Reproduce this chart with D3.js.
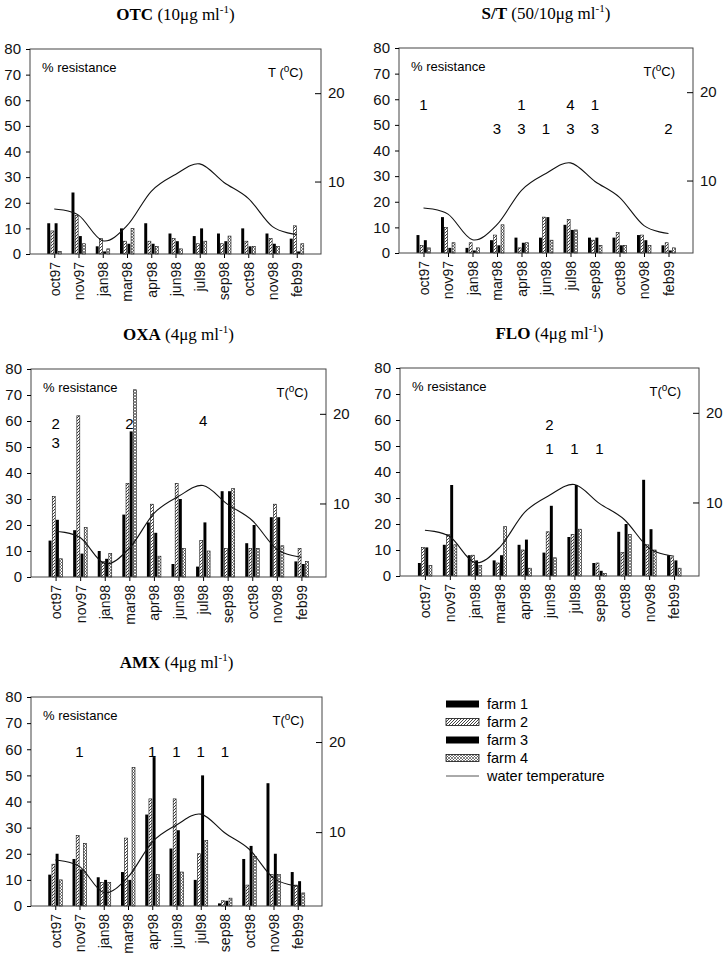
<!DOCTYPE html>
<html lang="en">
<head>
<meta charset="UTF-8" />
<title>index</title>
<script src="https://d3js.org/d3.v7.min.js"></script>
<style>
  body { margin: 0; background: white; }
  text { font-family: "Liberation Sans", Arial, sans-serif; }
  .title { font-family: "Liberation Serif", "Times New Roman", serif; font-size: 17px; }
</style>
</head>
<body>
<div id="my_dataviz"></div>
<script>
// categories (sampling months)
const categories = ["oct97","nov97","jan98","mar98","apr98","jun98","jul98","sep98","oct98","nov98","feb99"];
const farms = ["farm 1","farm 2","farm 3","farm 4"];

// water temperature, degrees C
const waterTemp = [6.9, 6.2, 3.3, 5.0, 8.9, 10.8, 12.0, 9.9, 8.1, 4.9, 4.0];

// % resistance, one row per farm
const otcValues = [
  [12, 24, 3, 10, 12, 8, 7, 8, 10, 8, 6],
  [9, 15, 6, 5, 5, 6, 4, 4, 5, 6, 11],
  [12, 7, 1, 4, 4, 5, 10, 5, 3, 4, 1],
  [1, 4, 2, 10, 3, 2, 5, 7, 3, 3, 4]
];
const stValues = [
  [7, 14, 2, 5, 6, 6, 11, 6, 6, 7, 3],
  [3, 10, 4, 7, 2, 14, 13, 5, 8, 7, 4],
  [5, 2, 1, 3, 4, 14, 9, 6, 3, 5, 1],
  [2, 4, 2, 11, 4, 5, 9, 3, 3, 3, 2]
];
const oxaValues = [
  [14, 18, 10, 24, 21, 5, 4, 33, 13, 23, 6],
  [31, 62, 6, 36, 28, 36, 14, 11, 11, 28, 11],
  [22, 9, 7, 56, 17, 30, 21, 33, 20, 23, 5],
  [7, 19, 9, 72, 8, 11, 10, 34, 11, 12, 6]
];
const floValues = [
  [5, 12, 8, 6, 12, 9, 15, 5, 17, 37, 8],
  [11, 16, 8, 5, 10, 17, 16, 5, 9, 12, 7],
  [11, 35, 6, 8, 14, 27, 35, 2, 20, 18, 6],
  [4, 12, 4, 19, 3, 7, 18, 1, 16, 10, 3]
];
const amxValues = [
  [12, 18, 11, 13, 35, 22, 10, 1, 18, 47, 13],
  [16, 27, 9, 26, 41, 41, 20, 2, 8, 12, 8],
  [20, 14, 10, 10, 57, 29, 50, 2, 23, 20, 9.5],
  [10, 24, 9, 53, 12, 13, 25, 3, 19, 12, 5]
];

// numbers written above the bars: [month, % level, text]
const otcNotes = [];
const stNotes = [["oct97",58,"1"],["mar98",48.5,"3"],["apr98",58,"1"],["apr98",48.5,"3"],["jun98",48.5,"1"],
                 ["jul98",58,"4"],["jul98",48.5,"3"],["sep98",58,"1"],["sep98",48.5,"3"],["feb99",48.5,"2"]];
const oxaNotes = [["oct97",59,"2"],["oct97",51.5,"3"],["mar98",59,"2"],["jul98",60,"4"]];
const floNotes = [["jun98",58,"2"],["jun98",49,"1"],["jul98",49,"1"],["sep98",49,"1"]];
const amxNotes = [["nov97",59,"1"],["apr98",59,"1"],["jun98",59,"1"],["jul98",59,"1"],["sep98",59,"1"]];

const yTicks = [0,10,20,30,40,50,60,70,80];
const tTicks = [10,20];

var svg = d3.select("#my_dataviz").append("svg")
  .attr("width", 727).attr("height", 955);

// fill patterns
var defs = svg.append("defs");
var p2 = defs.append("pattern").attr("id","hatch").attr("patternUnits","userSpaceOnUse")
  .attr("width",3).attr("height",3);
p2.append("rect").attr("width",3).attr("height",3).attr("fill","white");
p2.append("path").attr("d","M-1,1 L1,-1 M0,3 L3,0 M2,4 L4,2").attr("stroke","#111").attr("stroke-width",0.8);
var p4 = defs.append("pattern").attr("id","cross").attr("patternUnits","userSpaceOnUse")
  .attr("width",3).attr("height",3);
p4.append("rect").attr("width",3).attr("height",3).attr("fill","white");
p4.append("path").attr("d","M0,0 L3,3 M3,0 L0,3").attr("stroke","#333").attr("stroke-width",0.6);

const farmFill = ["#000", "url(#hatch)", "#000", "url(#cross)"];

var panels = [
  {name:"OTC", conc:" (10\u03bcg ml", values:otcValues, notes:otcNotes, tLab:"T (", x0:30, x1:321, y0:49, y1:254},
  {name:"S/T", conc:" (50/10\u03bcg ml", values:stValues, notes:stNotes, tLab:"T(", x0:399, x1:693, y0:48, y1:253},
  {name:"OXA", conc:" (4\u03bcg ml", values:oxaValues, notes:oxaNotes, tLab:"T(", x0:31, x1:326, y0:369, y1:577},
  {name:"FLO", conc:" (4\u03bcg ml", values:floValues, notes:floNotes, tLab:"T(", x0:400, x1:699, y0:368, y1:576},
  {name:"AMX", conc:" (4\u03bcg ml", values:amxValues, notes:amxNotes, tLab:"T(", x0:31, x1:322, y0:697, y1:906}
];

panels.forEach(drawPanel);

function drawPanel(p) {
  var g = svg.append("g");
  var x = d3.scalePoint().domain(categories).range([p.x0, p.x1]).padding(1);
  var inner = d3.scaleBand().domain([0,1,2,3]).range([-7, 7]).paddingInner(0.2);
  var y = d3.scaleLinear().domain([0, 80]).range([p.y1, p.y0]);
  var yT = d3.scaleLinear().domain([1.8, 25]).range([p.y1, p.y0]);

  // title
  var t = g.append("text").attr("class","title")
    .attr("x", (p.x0 + p.x1) / 2).attr("y", p.y0 - 29).attr("text-anchor","middle");
  t.append("tspan").attr("font-weight","bold").text(p.name);
  t.append("tspan").text(p.conc);
  t.append("tspan").attr("font-size",11).attr("dy",-7).text("-1");
  t.append("tspan").attr("dy",7).text(")");

  // bars
  p.values.forEach(function(row, i) {
    g.append("g").selectAll("rect").data(row).enter().append("rect")
      .attr("x", function(d, j) { return x(categories[j]) + inner(i); })
      .attr("y", function(d) { return y(d); })
      .attr("width", inner.bandwidth())
      .attr("height", function(d) { return p.y1 - y(d); })
      .attr("fill", farmFill[i])
      .attr("stroke", i % 2 ? "#111" : "none")
      .attr("stroke-width", 0.6);
  });

  // temperature line
  var line = d3.line()
    .x(function(d, j) { return x(categories[j]); })
    .y(function(d) { return yT(d); })
    .curve(d3.curveCardinal.tension(0));
  g.append("path").datum(waterTemp).attr("d", line)
    .attr("fill","none").attr("stroke","#111").attr("stroke-width",1.1);

  // frame
  g.append("rect").attr("x",p.x0).attr("y",p.y0)
    .attr("width",p.x1-p.x0).attr("height",p.y1-p.y0)
    .attr("fill","none").attr("stroke","#444").attr("stroke-width",1);

  // left axis
  var ya = g.append("g").attr("transform","translate(" + p.x0 + ",0)")
    .call(d3.axisLeft(y).tickValues(yTicks).tickSize(4).tickPadding(5));
  ya.select(".domain").remove();
  ya.selectAll("text").attr("font-size",15).attr("fill","#111");

  // right axis (temperature)
  var ta = g.append("g").attr("transform","translate(" + p.x1 + ",0)")
    .call(d3.axisRight(yT).tickValues(tTicks).tickSize(-6).tickPadding(7));
  ta.select(".domain").remove();
  ta.selectAll("text").attr("font-size",15).attr("fill","#111");

  // bottom axis
  var xa = g.append("g").attr("transform","translate(0," + p.y1 + ")")
    .call(d3.axisBottom(x).tickSize(4));
  xa.select(".domain").remove();
  xa.selectAll("text")
    .attr("transform","rotate(-90)")
    .attr("text-anchor","end")
    .attr("x",-8).attr("y",0).attr("dy","0.35em")
    .attr("font-size",14).attr("fill","#111");

  // inner labels
  g.append("text").attr("x",p.x0 + 12).attr("y",p.y0 + 23)
    .attr("font-size",13).text("% resistance");
  var tl = g.append("text").attr("x",p.x1 - 18).attr("y",p.y0 + 28)
    .attr("text-anchor","end").attr("font-size",13);
  tl.append("tspan").text(p.tLab);
  tl.append("tspan").attr("font-size",10).attr("dy",-5).text("o");
  tl.append("tspan").attr("dy",5).text("C)");

  // numbers above bars
  g.selectAll(".note").data(p.notes).enter().append("text")
    .attr("x", function(d) { return x(d[0]); })
    .attr("y", function(d) { return y(d[1]); })
    .attr("dy","0.35em").attr("text-anchor","middle")
    .attr("font-size",15).text(function(d) { return d[2]; });
}

// legend
var legend = svg.append("g").attr("transform","translate(446,704)");
var items = farms.concat(["water temperature"]);
items.forEach(function(name, i) {
  var row = legend.append("g").attr("transform","translate(0," + (i * 18) + ")");
  if (i < 4) {
    row.append("rect").attr("x",0).attr("y",-3.5).attr("width",33).attr("height",7)
      .attr("fill", farmFill[i]).attr("stroke", i % 2 ? "#111" : "none").attr("stroke-width",0.8);
  } else {
    row.append("line").attr("x1",0).attr("x2",33).attr("y1",0).attr("y2",0)
      .attr("stroke","#555").attr("stroke-width",1);
  }
  row.append("text").attr("x",41).attr("y",0).attr("dy","0.35em")
    .attr("font-size",14.5).text(name);
});
</script>
</body>
</html>
